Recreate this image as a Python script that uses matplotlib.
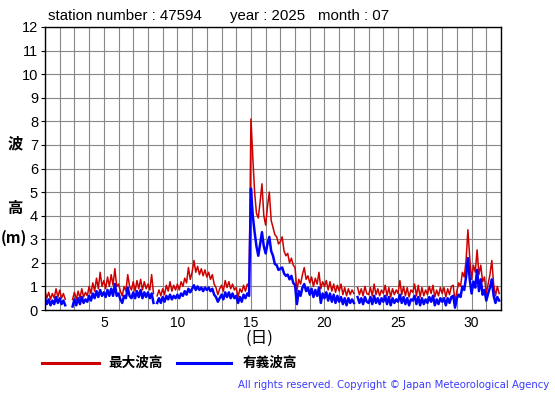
import numpy as np
import matplotlib
matplotlib.use('Agg')
import matplotlib.pyplot as plt
from matplotlib.lines import Line2D

nan = np.nan

# 3-hourly values, 8 per day, July 1 .. July 31
max_wave = [
    0.8, 0.5, 0.75, 0.45, 0.7, 0.5, 0.9, 0.55,       # 1
    0.85, 0.5, 0.7, 0.45, nan, nan, nan, 0.45,       # 2
    0.75, 0.45, 0.8, 0.5, 0.9, 0.55, 0.75, 0.6,      # 3
    1.0, 0.7, 1.15, 0.8, 1.35, 0.9, 1.6, 1.0,        # 4
    1.25, 0.9, 1.4, 1.0, 1.5, 1.05, 1.75, 1.0,       # 5
    1.1, 0.8, 0.6, 1.0, 0.8, 1.5, 1.0, 0.85,         # 6
    1.2, 0.8, 1.25, 0.9, 1.3, 0.85, 1.2, 0.9,        # 7
    1.1, 0.85, 1.5, 0.7, nan, 0.6, 0.85, 0.6,        # 8
    0.9, 0.65, 1.05, 0.8, 1.2, 0.8, 1.05, 0.85,      # 9
    1.1, 0.85, 1.2, 1.0, 1.35, 1.15, 1.8, 1.3,       # 10
    1.6, 2.1, 1.6, 1.85, 1.5, 1.75, 1.45, 1.7,       # 11
    1.4, 1.6, 1.3, 1.5, 1.1, 0.95, 0.65, 0.9,        # 12
    1.05, 0.8, 1.25, 0.95, 1.2, 0.9, 1.1, 0.85,      # 13
    0.95, 0.55, 0.9, 0.75, 1.05, 0.8, 1.1, 0.95,     # 14
    8.1, 6.5, 5.0, 4.1, 3.9, 4.6, 5.35, 4.0,         # 15
    3.6, 4.4, 5.0, 3.8, 3.5, 3.2, 3.1, 2.8,          # 16
    2.9, 3.1, 2.5, 2.3, 2.4, 2.0, 2.2, 1.9,          # 17
    1.8, 0.8, 1.3, 1.1, 1.5, 1.8, 1.3, 1.45,         # 18
    1.15, 1.4, 1.0, 1.35, 1.1, 1.6, 0.9, 1.2,        # 19
    1.0, 1.25, 0.85, 1.2, 0.8, 1.1, 0.75, 1.05,      # 20
    0.8, 1.1, 0.65, 0.95, 0.6, 0.9, 0.65, 0.85,      # 21
    0.7, nan, 0.95, 0.65, 0.9, 0.6, 1.0, 0.7,        # 22
    0.65, 0.95, 0.6, 1.1, 0.65, 0.9, 0.6, 0.85,      # 23
    0.7, 1.05, 0.6, 0.95, 0.55, 0.9, 0.65, 0.85,     # 24
    0.7, 1.25, 0.65, 1.0, 0.6, 0.95, 0.55, 0.85,     # 25
    0.75, 1.1, 0.6, 1.05, 0.55, 0.95, 0.6, 0.85,     # 26
    0.65, 1.0, 0.7, 1.05, 0.55, 0.85, 0.6, 0.95,     # 27
    0.7, 0.95, 0.55, 0.9, 0.65, 1.0, 1.05, 0.35,     # 28
    0.8, 1.15, 1.0, 1.6, 1.4, 2.1, 3.4, 2.2,         # 29
    1.3, 1.9, 1.6, 2.55, 1.5, 1.9, 1.2, 1.4,         # 30
    0.7, 1.1, 1.5, 2.1, 1.1, 0.6, 1.0, 0.7,          # 31
]

sig_wave = [
    0.5, 0.25, 0.45, 0.2, 0.4, 0.25, 0.55, 0.3,      # 1
    0.5, 0.25, 0.4, 0.2, nan, nan, nan, 0.15,        # 2
    0.45, 0.2, 0.5, 0.25, 0.55, 0.3, 0.45, 0.35,     # 3
    0.6, 0.4, 0.7, 0.5, 0.8, 0.55, 0.85, 0.6,        # 4
    0.75, 0.55, 0.85, 0.6, 0.9, 0.6, 1.1, 0.6,       # 5
    0.7, 0.45, 0.3, 0.6, 0.5, 0.95, 0.6, 0.5,        # 6
    0.75, 0.5, 0.8, 0.55, 0.85, 0.5, 0.75, 0.55,     # 7
    0.75, 0.5, 0.7, 0.3, nan, 0.3, 0.5, 0.3,         # 8
    0.55, 0.35, 0.6, 0.45, 0.65, 0.45, 0.6, 0.5,     # 9
    0.65, 0.5, 0.7, 0.6, 0.8, 0.65, 0.9, 0.75,       # 10
    0.9, 1.05, 0.85, 1.0, 0.85, 0.95, 0.8, 0.95,     # 11
    0.85, 0.95, 0.8, 0.9, 0.65, 0.55, 0.35, 0.5,     # 12
    0.65, 0.45, 0.75, 0.55, 0.75, 0.5, 0.7, 0.5,     # 13
    0.6, 0.3, 0.55, 0.35, 0.65, 0.5, 0.7, 0.6,       # 14
    5.15, 4.0, 3.3, 2.7, 2.3, 2.8, 3.3, 2.7,         # 15
    2.4, 2.8, 3.1, 2.5, 2.3, 1.95, 1.9, 1.7,         # 16
    1.75, 1.8, 1.55, 1.45, 1.5, 1.3, 1.45, 1.15,     # 17
    1.05, 0.25, 0.8, 0.6, 0.95, 1.1, 0.8, 0.95,      # 18
    0.65, 0.9, 0.55, 0.85, 0.6, 0.95, 0.3, 0.7,      # 19
    0.5, 0.75, 0.4, 0.7, 0.35, 0.65, 0.3, 0.6,       # 20
    0.35, 0.55, 0.25, 0.5, 0.2, 0.5, 0.3, 0.45,      # 21
    0.3, nan, 0.55, 0.3, 0.5, 0.25, 0.55, 0.35,      # 22
    0.3, 0.55, 0.25, 0.6, 0.3, 0.5, 0.25, 0.5,       # 23
    0.35, 0.6, 0.25, 0.55, 0.2, 0.5, 0.3, 0.45,      # 24
    0.35, 0.65, 0.3, 0.55, 0.25, 0.5, 0.2, 0.45,     # 25
    0.4, 0.6, 0.25, 0.55, 0.2, 0.5, 0.25, 0.45,      # 26
    0.3, 0.55, 0.35, 0.6, 0.2, 0.45, 0.25, 0.5,      # 27
    0.35, 0.5, 0.2, 0.5, 0.3, 0.55, 0.6, 0.1,        # 28
    0.5, 0.65, 0.55, 1.0, 0.85, 1.4, 2.2, 1.3,       # 29
    0.7, 1.2, 0.95, 1.7, 0.8, 1.3, 0.65, 0.85,       # 30
    0.4, 0.7, 0.95, 1.3, 0.6, 0.3, 0.55, 0.4,        # 31
]

days = 1 + np.arange(len(max_wave)) / 8.0
day_ticks = [5, 10, 15, 20, 25, 30]

fig = plt.figure(figsize=(5.55, 3.95), dpi=100)
ax = fig.add_axes([45/555, 1-310/395, 456/555, 283/395])

ax.plot(days, max_wave, color='#cc0000', lw=1.1)
ax.plot(days, sig_wave, color='#0000ff', lw=1.8)

ax.set_xlim(1, 32)
ax.set_ylim(0, 12)
ax.set_xticks(day_ticks)
ax.set_xticks(range(1, 33), minor=True)
ax.set_yticks(range(0, 13))
ax.grid(True, which='both', color='#888888', lw=0.8)
ax.set_axisbelow(True)
ax.tick_params(axis='x', which='both', length=0, labelsize=10, pad=4)
ax.tick_params(axis='y', length=3, labelsize=10.5, pad=2)
for lab in ax.get_xticklabels() + ax.get_yticklabels():
    lab.set_family('Liberation Sans')
for s in ax.spines.values():
    s.set_linewidth(1.0)

cjk = ['Noto Sans CJK JP', 'DejaVu Sans']
fig.text(48/555, 1-16/395, 'station number : 47594', fontsize=10.8, family='Liberation Sans', va='center')
fig.text(230/555, 1-16/395, 'year : 2025', fontsize=10.8, family='Liberation Sans', va='center')
fig.text(318/555, 1-16/395, 'month : 07', fontsize=10.8, family='Liberation Sans', va='center')

fig.text(15/555, 1-143/395, '波', fontsize=11, family=cjk, weight='bold', ha='center', va='center')
fig.text(15/555, 1-208/395, '高', fontsize=11, family=cjk, weight='bold', ha='center', va='center')
fig.text(14/555, 1-238/395, '(m)', fontsize=11, family=cjk, weight='bold', ha='center', va='center')
fig.text(259/555, 1-338/395, '(日)', fontsize=12, family=cjk, ha='center', va='center')

fig.add_artist(Line2D([42/555, 99/555], [1-363/395, 1-363/395], color='#cc0000', lw=2.2))
fig.text(108/555, 1-363/395, '最大波高', fontsize=9.8, family=cjk, weight='bold', va='center')
fig.add_artist(Line2D([177/555, 231/555], [1-363/395, 1-363/395], color='#0000ff', lw=2.2))
fig.text(243/555, 1-363/395, '有義波高', fontsize=9.8, family=cjk, weight='bold', va='center')

fig.text(549/555, 1-385/395, 'All rights reserved. Copyright \u00a9 Japan Meteorological Agency',
         fontsize=7.3, color='#3a3aff', ha='right', va='center', family='DejaVu Sans')

fig.savefig('out.png', dpi=100)
